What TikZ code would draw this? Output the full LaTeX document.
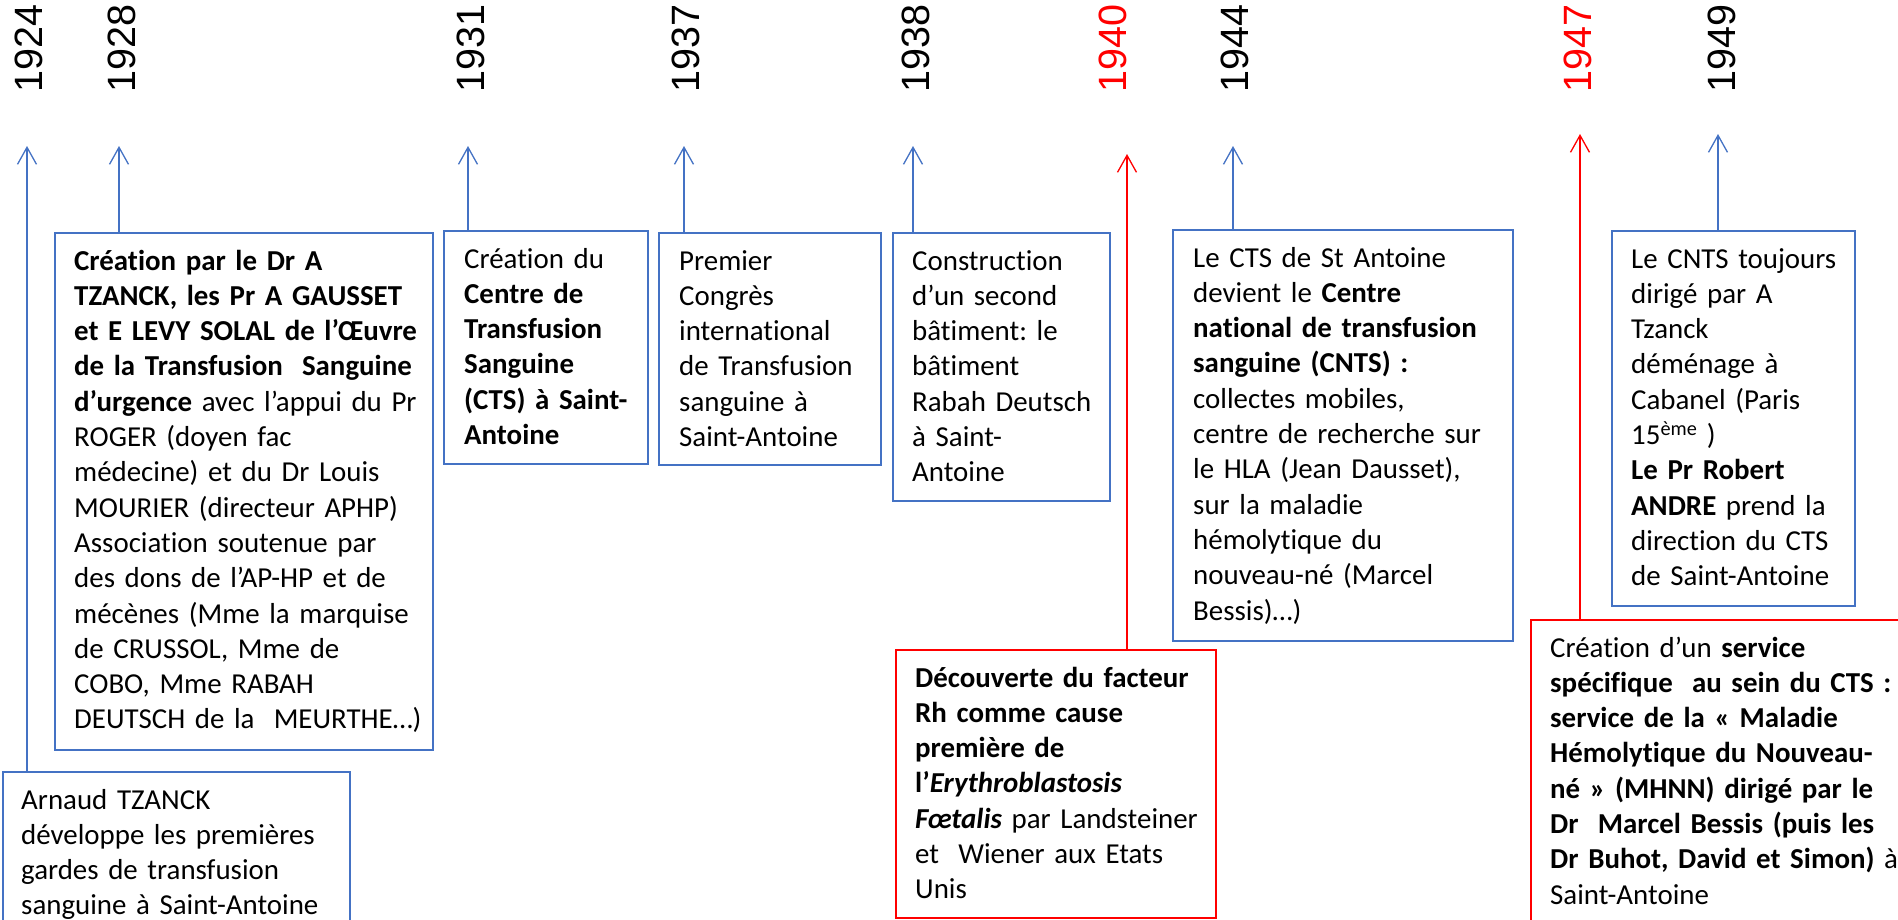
\documentclass[tikz,border=0pt]{standalone}
\usepackage{fontspec}
\setmainfont{Carlito}[RawFeature={-liga}]
\newfontfamily\yearfont{Liberation Sans}
\usetikzlibrary{arrows.meta}
\definecolor{obl}{HTML}{4472C4}
\definecolor{ored}{HTML}{FF0000}
\frenchspacing
\begin{document}
\begin{tikzpicture}[x=1pt,y=-1pt,
  bluebox/.style={draw=obl,line width=2pt,inner sep=0pt,outer sep=0pt,anchor=north west},
  redbox/.style={draw=ored,line width=2.5pt,inner sep=0pt,outer sep=0pt,anchor=north west},
  txt/.style={anchor=base west,inner sep=0pt,text width=700pt,align=left,font=\fontsize{28.9}{35.3}\selectfont},
  year/.style={rotate=90,anchor=base east,inner sep=0pt,font=\yearfont\fontsize{39.5}{40}\selectfont},
  barrow/.style={draw=obl,line width=1.3pt,-{Straight Barb[length=17pt,width=19pt,line width=1.3pt]}},
  rarrow/.style={draw=ored,line width=1.3pt,-{Straight Barb[length=17pt,width=19pt,line width=1.3pt]}}]
\useasboundingbox (0,0) rectangle (1898,919);
\clip (0,0) rectangle (1898,919);
\fill[white] (0,0) rectangle (1898,919);

% year labels
\node[year] (y24) at (42,4) {1924};
\node[year] (y28) at (135.5,4) {1928};
\node[year] (y31) at (484.5,4) {1931};
\node[year] (y37) at (699.5,4) {1937};
\node[year] (y38) at (929.5,4) {1938};
\node[year,text=ored] (y40) at (1126.5,4) {1940};
\node[year] (y44) at (1248.5,4) {1944};
\node[year,text=ored] (y47) at (1591.5,4) {1947};
\node[year] (y49) at (1735.5,4) {1949};

% arrow tips
\coordinate (t24) at (27,146);
\coordinate (t28) at (119,146);
\coordinate (t31) at (468,146);
\coordinate (t37) at (684,146);
\coordinate (t38) at (913,146);
\coordinate (t40) at (1127,154);
\coordinate (t44) at (1233,146);
\coordinate (t47) at (1580,134);
\coordinate (t49) at (1718,134);

% boxes
\node[bluebox,minimum width=347pt,minimum height=200pt] (bA) at (3,772) {};
\node[bluebox,minimum width=378pt,minimum height=517pt] (b28) at (55,233) {};
\node[bluebox,minimum width=204pt,minimum height=233pt] (b31) at (444,231) {};
\node[bluebox,minimum width=222pt,minimum height=232pt] (b37) at (659,233) {};
\node[bluebox,minimum width=217pt,minimum height=268pt] (b38) at (893,233) {};
\node[redbox,minimum width=320pt,minimum height=268pt] (b40) at (896,650) {};
\node[bluebox,minimum width=340pt,minimum height=411pt] (b44) at (1173,230) {};
\node[bluebox,minimum width=243pt,minimum height=375pt] (b49) at (1612,231) {};
\node[redbox,minimum width=420pt,minimum height=350pt] (b47) at (1531,620) {};

% connectors
\draw[barrow] (bA.north -| t24) -- (t24);
\draw[barrow] (b28.north -| t28) -- (t28);
\draw[barrow] (b31.north -| t31) -- (t31);
\draw[barrow] (b37.north -| t37) -- (t37);
\draw[barrow] (b38.north -| t38) -- (t38);
\draw[rarrow] (b40.north -| t40) -- (t40);
\draw[barrow] (b44.north -| t44) -- (t44);
\draw[rarrow] (b47.north -| t47) -- (t47);
\draw[barrow] (b49.north -| t49) -- (t49);

% texts
\node[txt] (xA) at (21,809) {Arnaud TZANCK\\développe les premières\\gardes de transfusion\\sanguine à Saint-Antoine};
\node[txt] (x28) at (74,270) {\textbf{Création par le Dr A}\\\textbf{TZANCK, les Pr A GAUSSET}\\\textbf{et E LEVY SOLAL de l’Œuvre}\\\textbf{de la Transfusion~ Sanguine}\\\textbf{d’urgence} avec l’appui du Pr\\ROGER (doyen fac\\médecine) et du Dr Louis\\MOURIER (directeur APHP)\\Association soutenue par\\des dons de l’AP-HP et de\\mécènes (Mme la marquise\\de CRUSSOL, Mme de\\COBO, Mme RABAH\\DEUTSCH de la~ MEURTHE…)};
\node[txt] (x31) at (464,268) {Création du\\\textbf{Centre de}\\\textbf{Transfusion}\\\textbf{Sanguine}\\\textbf{(CTS) à Saint-}\\\textbf{Antoine}};
\node[txt] (x37) at (679,270) {Premier\\Congrès\\international\\de Transfusion\\sanguine à\\Saint-Antoine};
\node[txt] (x38) at (912,270) {Construction\\d’un second\\bâtiment: le\\bâtiment\\Rabah Deutsch\\à Saint-\\Antoine};
\node[txt] (x40) at (915,687) {\textbf{Découverte du facteur}\\\textbf{Rh comme cause}\\\textbf{première de}\\\textbf{l’\textit{Erythroblastosis}}\\\textbf{\textit{Fœtalis}} par Landsteiner\\et~ Wiener aux Etats\\Unis};
\node[txt] (x44) at (1193,267) {Le CTS de St Antoine\\devient le \textbf{Centre}\\\textbf{national de transfusion}\\\textbf{sanguine (CNTS) :}\\collectes mobiles,\\centre de recherche sur\\le HLA (Jean Dausset),\\sur la maladie\\hémolytique du\\nouveau-né (Marcel\\Bessis)…)};
\node[txt] (x49) at (1631,268) {Le CNTS toujours\\dirigé par A\\Tzanck\\déménage à\\Cabanel (Paris\\15\textsuperscript{ème} )\\\textbf{Le Pr Robert}\\\textbf{ANDRE} prend la\\direction du CTS\\de Saint-Antoine};
\node[txt] (x47) at (1550,657) {Création d’un \textbf{service}\\\textbf{spécifique~ au sein du CTS :}\\\textbf{service de la «~Maladie}\\\textbf{Hémolytique du Nouveau-}\\\textbf{né~» (MHNN) dirigé par le}\\\textbf{Dr~ Marcel Bessis (puis les}\\\textbf{Dr Buhot, David et Simon)} à\\Saint-Antoine};
\end{tikzpicture}
\end{document}
